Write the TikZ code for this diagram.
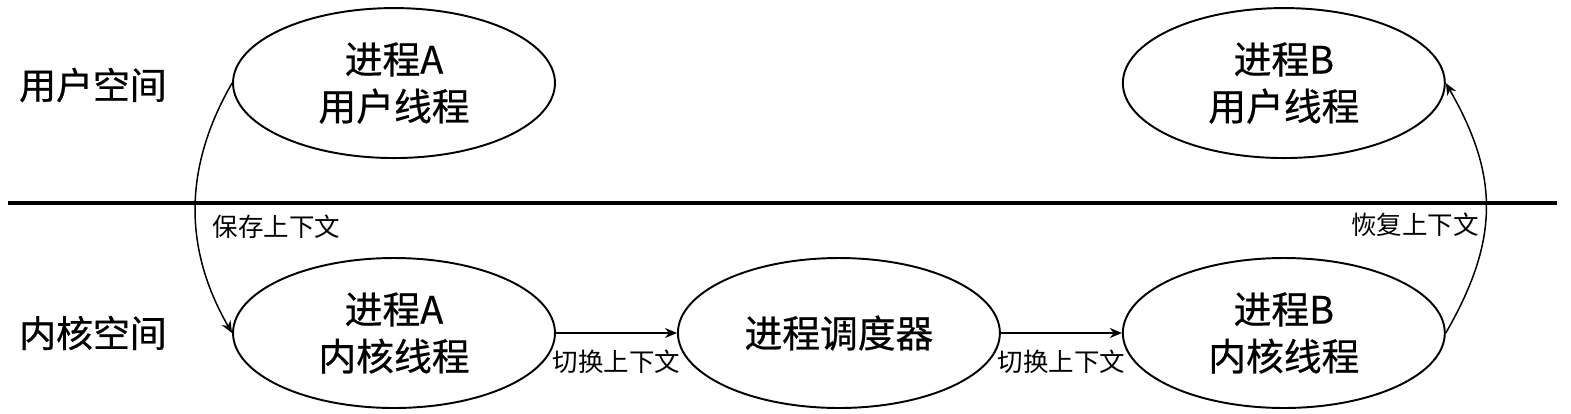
\documentclass[tikz,border=0pt]{standalone}
\usepackage{fontspec}
\setmainfont{Noto Sans CJK SC}
\newfontfamily\heavyfont{Noto Sans CJK SC}[FakeBold=0.6]
\usetikzlibrary{arrows.meta, shapes.geometric, positioning}

\begin{document}
\begin{tikzpicture}[x=0.02cm, y=-0.02cm, ->, >={Stealth[length=0.24cm,width=0.2cm]}, auto, line width=0.85pt, node distance=8.9cm]
        \tikzstyle{proc}=[ellipse,draw=black,line width=1.1pt,minimum width=6.44cm,minimum height=3cm,inner sep=0pt,align=center,font=\heavyfont\fontsize{21.5}{26.7}\selectfont]
        \tikzstyle{space}=[font=\heavyfont\fontsize{21}{25}\selectfont]
        \tikzstyle{ctx}=[font=\fontsize{14.5}{17}\selectfont]
        \useasboundingbox (0,0) rectangle (1571,413);
        \node[proc]    (kA)    at (394,333)             {进程A\\内核线程};
        \node[proc]    (sched) [right of=kA]            {进程调度器};
        \node[proc]    (kB)    [right of=sched]         {进程B\\内核线程};
        \node[proc]    (uA)    [above of=kA, node distance=5cm] {进程A\\用户线程};
        \node[proc]    (uB)    [above of=kB, node distance=5cm] {进程B\\用户线程};
        \node[space]   (user)   at (93,85)   {用户空间};
        \node[space]   (kernel) at (93,333)  {内核空间};
        \coordinate (lineL) at (8,203);
        \coordinate (lineR) at (1557,203);
        \draw[-, line width=2pt] (lineL) -- (lineR);
        \path
        (uA.west) edge[out=240, in=120]   node[ctx, pos=0.575, right, xshift=0.2cm]{保存上下文}  (kA.west)
        (kA) edge                          node[ctx, below=0.2cm]{切换上下文}  (sched)
        (sched) edge                       node[ctx, below=0.2cm]{切换上下文}  (kB)
        (kB.east) edge[out=60, in=-60, looseness=1.1] node[ctx, pos=0.43, left]{恢复上下文}  (uB.east);
\end{tikzpicture}
\end{document}
